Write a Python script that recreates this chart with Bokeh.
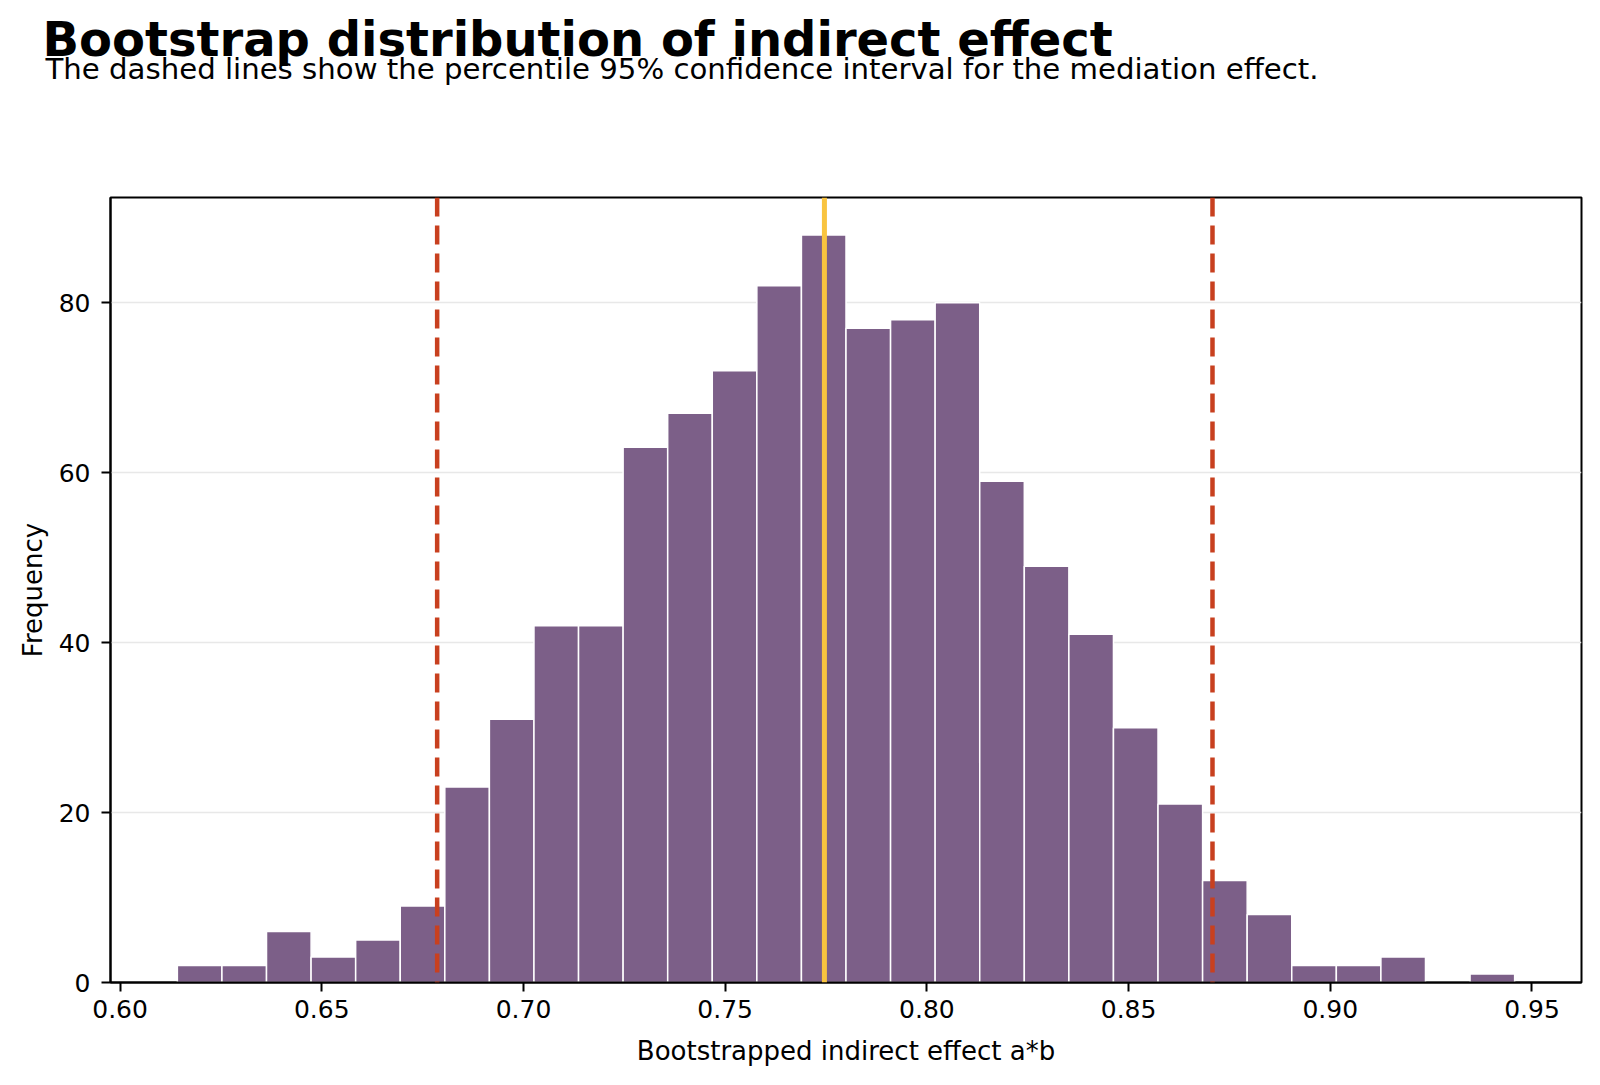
from bokeh.plotting import figure
from bokeh.models import (Span, Title, FixedTicker, NumeralTickFormatter, Range1d,
                          LinearAxis)
from bokeh.embed import file_html
from bokeh.resources import INLINE
import numpy as np

# Bootstrap histogram: 30 equal-width bins of the indirect effect a*b
hist_min = 0.6142
hist_max = 0.9457
counts = [2, 2, 6, 3, 5, 9, 23, 31, 42, 42, 63, 67, 72, 82, 88,
          77, 78, 80, 59, 49, 41, 30, 21, 12, 8, 2, 2, 3, 0, 1]

# Percentile 95% CI and point estimate
ci_lower = 0.6786
ci_upper = 0.8708
point_estimate = 0.7746

x_ticks = [0.60, 0.65, 0.70, 0.75, 0.80, 0.85, 0.90, 0.95]
y_ticks = [0, 20, 40, 60, 80]

title_text = "Bootstrap distribution of indirect effect"
subtitle_text = "The dashed lines show the percentile 95% confidence interval for the mediation effect."
x_label = "Bootstrapped indirect effect a*b"
y_label = "Frequency"

FONT = "DejaVu Sans"
BAR = "#7c5f88"
RED = "#c8401f"
GOLD = "#f9c440"

edges = np.linspace(hist_min, hist_max, len(counts) + 1)
span = hist_max - hist_min
x_lo, x_hi = hist_min - 0.05 * span, hist_max + 0.05 * span

p = figure(width=1600, height=1085, output_backend="svg", toolbar_location=None,
           x_range=Range1d(x_lo, x_hi), y_range=Range1d(0, max(counts) * 1.05),
           min_border_left=110, min_border_right=19, min_border_top=197,
           min_border_bottom=103)
p.background_fill_color = "white"
p.border_fill_color = "white"
p.outline_line_color = "black"
p.outline_line_width = 2

xaxis = p.below[0]
yaxis = p.left[0]

# Blank top axis (no line, ticks or labels drawn): keeps a gap between
# the header text and the frame
gap_axis = LinearAxis(ticker=FixedTicker(ticks=x_ticks), axis_line_color=None,
                      major_tick_line_color=None, minor_tick_line_color=None,
                      major_label_text_color=None,
                      major_tick_in=0, major_tick_out=110,
                      major_label_standoff=0, axis_label_standoff=0)
p.add_layout(gap_axis, "above")

# Subtitle above the gap, bold title stacked above the subtitle
p.add_layout(Title(text=subtitle_text, align="left", offset=-65,
                   text_font=FONT, text_font_size="29.2px",
                   text_font_style="normal", text_color="black",
                   vertical_align="top", standoff=0), "above")
p.add_layout(Title(text=title_text, align="left", offset=-68,
                   text_font=FONT, text_font_size="48px",
                   text_font_style="bold", text_color="black",
                   vertical_align="bottom", standoff=-30), "above")

p.quad(left=edges[:-1], right=edges[1:], bottom=0, top=counts,
       fill_color=BAR, line_color="white", line_width=1.5)

for loc in (ci_lower, ci_upper):
    p.add_layout(Span(location=loc, dimension="height", line_color=RED,
                      line_width=4.5, line_dash="19 9"))
p.add_layout(Span(location=point_estimate, dimension="height",
                  line_color=GOLD, line_width=5))

p.xgrid.visible = False
p.ygrid.grid_line_color = "#e8e8e8"
p.ygrid.grid_line_width = 1.5

xaxis.ticker = FixedTicker(ticks=x_ticks)
xaxis.formatter = NumeralTickFormatter(format="0.00")
yaxis.ticker = FixedTicker(ticks=y_ticks)

for ax in (xaxis, yaxis):
    ax.axis_line_color = "black"
    ax.axis_line_width = 2
    ax.major_tick_line_color = "black"
    ax.major_tick_line_width = 2
    ax.major_tick_in = 0
    ax.major_tick_out = 9
    ax.minor_tick_line_color = None
    ax.major_label_text_font = FONT
    ax.major_label_text_font_size = "25px"
    ax.major_label_text_color = "black"
    ax.axis_label_text_font = FONT
    ax.axis_label_text_font_size = "26px"
    ax.axis_label_text_font_style = "normal"
    ax.axis_label_text_color = "black"

xaxis.axis_label = x_label
yaxis.axis_label = y_label
xaxis.major_label_standoff = 8
yaxis.major_label_standoff = 11
xaxis.axis_label_standoff = 15
yaxis.axis_label_standoff = 8

open("out.html", "w").write(file_html(p, INLINE))
